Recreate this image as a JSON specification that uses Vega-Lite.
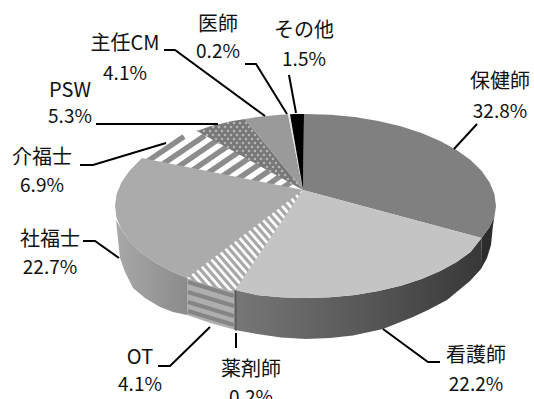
{
  "$schema": "https://vega.github.io/schema/vega-lite/v6.json",
  "width": 534,
  "height": 399,
  "padding": 0,
  "autosize": "none",
  "background": "white",
  "config": {"view": {"stroke": null}},
  "projection": {"type": "identity", "reflectY": true, "scale": 1, "translate": [300, 200]},
  "resolve": {"scale": {"fill": "independent"}},
  "datasets": {
    "hatchedTops": [
      {"type": "Feature", "properties": {"part": "OT"}, "geometry": {"type": "Polygon", "coordinates": [[[3,10],[-65,-90],[-67.4,-91],[-89.8,-85.7],[-110.5,-79],[-113,-78],[3,10]]]}},
      {"type": "Feature", "properties": {"part": "介福士"}, "geometry": {"type": "Polygon", "coordinates": [[[3,10],[-158,42],[-145.6,50],[-129.2,59.1],[-110.5,67],[-103,69],[3,10]]]}}
    ],
    "hatchOT": [
      {"s":1,"lon":-4.4,"lat":10.1},{"s":1,"lon":2.8,"lat":1.8},
      {"s":2,"lon":-9.2,"lat":6.6},{"s":2,"lon":-0.7,"lat":-3.2},
      {"s":3,"lon":-13.9,"lat":3},{"s":3,"lon":-4.1,"lat":-8.3},
      {"s":4,"lon":-18.7,"lat":-0.5},{"s":4,"lon":-7.6,"lat":-13.3},
      {"s":5,"lon":-23.4,"lat":-4.1},{"s":5,"lon":-11,"lat":-18.4},
      {"s":6,"lon":-28.1,"lat":-7.7},{"s":6,"lon":-14.5,"lat":-23.3},
      {"s":7,"lon":-32.9,"lat":-11.2},{"s":7,"lon":-18,"lat":-28.3},
      {"s":8,"lon":-37.6,"lat":-14.8},{"s":8,"lon":-21.4,"lat":-33.4},
      {"s":9,"lon":-42.3,"lat":-18.4},{"s":9,"lon":-24.9,"lat":-38.4},
      {"s":10,"lon":-47.1,"lat":-21.8},{"s":10,"lon":-28.3,"lat":-43.5},
      {"s":11,"lon":-51.8,"lat":-25.4},{"s":11,"lon":-31.8,"lat":-48.4},
      {"s":12,"lon":-56.6,"lat":-28.9},{"s":12,"lon":-35.2,"lat":-53.5},
      {"s":13,"lon":-61.3,"lat":-32.5},{"s":13,"lon":-38.7,"lat":-58.5},
      {"s":14,"lon":-66,"lat":-36.1},{"s":14,"lon":-42.1,"lat":-63.6},
      {"s":15,"lon":-70.8,"lat":-39.6},{"s":15,"lon":-45.6,"lat":-68.6},
      {"s":16,"lon":-75.5,"lat":-43.2},{"s":16,"lon":-49,"lat":-73.7},
      {"s":17,"lon":-80.2,"lat":-46.8},{"s":17,"lon":-52.5,"lat":-78.6},
      {"s":18,"lon":-85,"lat":-50.3},{"s":18,"lon":-56,"lat":-83.6},
      {"s":19,"lon":-89.7,"lat":-53.8},{"s":19,"lon":-59.4,"lat":-88.7},
      {"s":20,"lon":-94.4,"lat":-57.4},{"s":20,"lon":-61.7,"lat":-95},
      {"s":21,"lon":-99.2,"lat":-60.9},{"s":21,"lon":-69.6,"lat":-95},
      {"s":22,"lon":-104,"lat":-64.4},{"s":22,"lon":-77.4,"lat":-95},
      {"s":23,"lon":-108.7,"lat":-68},{"s":23,"lon":-85.2,"lat":-95},
      {"s":24,"lon":-113.4,"lat":-71.6},{"s":24,"lon":-93.1,"lat":-95}
    ],
    "hatchKaifuku": [
      {"s":1,"lon":-155,"lat":37},{"s":1,"lon":-116,"lat":63.5},
      {"s":2,"lon":-140,"lat":34},{"s":2,"lon":-95,"lat":64.6},
      {"s":3,"lon":-125,"lat":31},{"s":3,"lon":-79,"lat":62.5},
      {"s":4,"lon":-110,"lat":28.1},{"s":4,"lon":-68,"lat":56.7},
      {"s":5,"lon":-95,"lat":25.1},{"s":5,"lon":-58,"lat":50.3},
      {"s":6,"lon":-80,"lat":22.1},{"s":6,"lon":-47,"lat":44.5},
      {"s":7,"lon":-65,"lat":19.1},{"s":7,"lon":-37,"lat":38.1},
      {"s":8,"lon":-50,"lat":16.1},{"s":8,"lon":-26,"lat":32.4},
      {"s":9,"lon":-35,"lat":13.1},{"s":9,"lon":-16,"lat":26.5},
      {"s":10,"lon":-20,"lat":10.2},{"s":10,"lon":-6,"lat":20}
    ],
    "wallNurse": [
      {"type": "Feature", "properties": {"part": "看護師"}, "geometry": {"type": "Polygon", "coordinates": [[[181.5,-38],[170.5,-52],[156.6,-62],[140.2,-71.1],[121.5,-79],[100.8,-85.7],[78.4,-91],[54.8,-94.9],[30.4,-97.2],[5.5,-98],[-19.4,-97.2],[-43.8,-94.9],[-65,-90],[-65,-130],[-42.9,-134],[-18.9,-137.5],[5.5,-139],[30,-138],[53,-135.5],[83,-129],[113,-117],[128,-110],[147,-100],[170,-81],[181,-69],[181.5,-38]]]}}
    ],
    "wallSocial": [
      {"type": "Feature", "properties": {"part": "社福士"}, "geometry": {"type": "Polygon", "coordinates": [[[-113,-78],[-129.2,-71.1],[-145.6,-62],[-159.5,-52],[-170.5,-41.2],[-178.5,-29.8],[-184,-20],[-180,-58],[-175,-72],[-167,-88],[-155,-98],[-140,-107],[-127,-112],[-113,-115],[-113,-78]]]}}
    ],
    "wallsFlat": [
      {"type": "Feature", "properties": {"part": "保健師側面"}, "geometry": {"type": "Polygon", "coordinates": [[[196,-8],[194.4,-17],[189.5,-27],[181.5,-38],[181,-69],[187,-58],[191,-45],[193,-25],[196,-8]]]}},
      {"type": "Feature", "properties": {"part": "OT側面"}, "geometry": {"type": "Polygon", "coordinates": [[[-65,-90],[-67.4,-91],[-89.8,-85.7],[-110.5,-79],[-113,-78],[-113,-115],[-88,-123.5],[-66,-129.5],[-65,-130],[-65,-90]]]}},
      {"type": "Feature", "properties": {"part": "薬剤師側面"}, "geometry": {"type": "Polygon", "coordinates": [[[-65.5,-90],[-63.5,-90.5],[-63.5,-131],[-65.5,-130],[-65.5,-90]]]}}
    ],
    "flatTops": [
      {"type": "Feature", "properties": {"part": "保健師"}, "geometry": {"type": "Polygon", "coordinates": [[[3,10],[4,86],[5.5,86],[30.4,85.2],[54.8,82.9],[78.4,79],[100.8,73.7],[121.5,67],[140.2,59.1],[156.6,50],[170.5,40],[181.5,29.2],[189.5,17.8],[194.4,6],[196,-6],[194.4,-17],[189.5,-27],[181.5,-38],[3,10]]]}},
      {"type": "Feature", "properties": {"part": "看護師"}, "geometry": {"type": "Polygon", "coordinates": [[[3,10],[181.5,-38],[170.5,-52],[156.6,-62],[140.2,-71.1],[121.5,-79],[100.8,-85.7],[78.4,-91],[54.8,-94.9],[30.4,-97.2],[5.5,-98],[-19.4,-97.2],[-43.8,-94.9],[-65,-90],[3,10]]]}},
      {"type": "Feature", "properties": {"part": "社福士"}, "geometry": {"type": "Polygon", "coordinates": [[[3,10],[-113,-78],[-129.2,-71.1],[-145.6,-62],[-159.5,-52],[-170.5,-41.2],[-178.5,-29.8],[-183.4,-18],[-185,-6],[-183.4,6],[-178.5,17.8],[-170.5,29.2],[-158,42],[3,10]]]}},
      {"type": "Feature", "properties": {"part": "PSW"}, "geometry": {"type": "Polygon", "coordinates": [[[3,10],[-103,69],[-89.8,73.7],[-67.4,79],[-55,81],[3,10]]]}},
      {"type": "Feature", "properties": {"part": "主任CM"}, "geometry": {"type": "Polygon", "coordinates": [[[3,10],[-55,81],[-43.8,82.9],[-19.4,85.2],[-12,85.7],[3,10]]]}},
      {"type": "Feature", "properties": {"part": "医師"}, "geometry": {"type": "Polygon", "coordinates": [[[3,10],[-12,85.7],[-10,85.8],[3,10]]]}},
      {"type": "Feature", "properties": {"part": "その他"}, "geometry": {"type": "Polygon", "coordinates": [[[3,10],[-10,85.8],[-5,86],[4,86],[3,10]]]}}
    ],
    "dotsPSW": [
      {"r":1,"lon":-72,"lat":77},{"r":1,"lon":-53,"lat":77},
      {"r":2,"lon":-87,"lat":73},{"r":2,"lon":-50,"lat":73},
      {"r":3,"lon":-102,"lat":69},{"r":3,"lon":-46,"lat":69},
      {"r":4,"lon":-93,"lat":65},{"r":4,"lon":-42,"lat":65},
      {"r":5,"lon":-84,"lat":61},{"r":5,"lon":-39,"lat":61},
      {"r":6,"lon":-81,"lat":57},{"r":6,"lon":-36,"lat":57},
      {"r":7,"lon":-72,"lat":53},{"r":7,"lon":-33,"lat":53},
      {"r":8,"lon":-63,"lat":49},{"r":8,"lon":-30,"lat":49},
      {"r":9,"lon":-54,"lat":45},{"r":9,"lon":-26,"lat":45},
      {"r":10,"lon":-51,"lat":41},{"r":10,"lon":-23,"lat":41},
      {"r":11,"lon":-42,"lat":37},{"r":11,"lon":-20,"lat":37},
      {"r":12,"lon":-33,"lat":33},{"r":12,"lon":-16,"lat":33},
      {"r":13,"lon":-30,"lat":29},{"r":13,"lon":-13,"lat":29},
      {"r":14,"lon":-21,"lat":25},{"r":14,"lon":-10,"lat":25},
      {"r":15,"lon":-12,"lat":21},{"r":15,"lon":-6,"lat":21},
      {"r":16,"lon":-9,"lat":17},{"r":16,"lon":-3,"lat":17}
    ],
    "hatchWallOT": [
      {"s":1,"lon":-112,"lat":-82},{"s":1,"lon":-66,"lat":-96},
      {"s":2,"lon":-112,"lat":-92},{"s":2,"lon":-66,"lat":-106},
      {"s":3,"lon":-112,"lat":-102},{"s":3,"lon":-66,"lat":-116},
      {"s":4,"lon":-112,"lat":-111},{"s":4,"lon":-66,"lat":-125}
    ],
    "leaders": [
      {"who":"保健師","lon":154,"lat":51},{"who":"保健師","lon":177,"lat":76},
      {"who":"看護師","lon":83,"lat":-129},{"who":"看護師","lon":128,"lat":-162},{"who":"看護師","lon":140,"lat":-162},
      {"who":"薬剤師","lon":-64,"lat":-133},{"who":"薬剤師","lon":-64,"lat":-148},
      {"who":"OT","lon":-90,"lat":-127},{"who":"OT","lon":-130,"lat":-166},{"who":"OT","lon":-142,"lat":-166},
      {"who":"社福士","lon":-181,"lat":-58},{"who":"社福士","lon":-205,"lat":-41},{"who":"社福士","lon":-217,"lat":-41},
      {"who":"介福士","lon":-134,"lat":57},{"who":"介福士","lon":-207,"lat":35},{"who":"介福士","lon":-220,"lat":35},
      {"who":"PSW","lon":-82,"lat":76},{"who":"PSW","lon":-204,"lat":76},
      {"who":"主任CM","lon":-35,"lat":84},{"who":"主任CM","lon":-125,"lat":150},{"who":"主任CM","lon":-136,"lat":150},
      {"who":"医師","lon":-13,"lat":86},{"who":"医師","lon":-44,"lat":136},{"who":"医師","lon":-55,"lat":136},
      {"who":"その他","lon":-4,"lat":87},{"who":"その他","lon":-11,"lat":125}
    ],
    "labels": [
      {"name":"保健師","share":0.328,"lon":200,"nameLat":118,"shareLat":88},
      {"name":"看護師","share":0.222,"lon":176,"nameLat":-156,"shareLat":-185},
      {"name":"薬剤師","share":0.002,"lon":-49,"nameLat":-170,"shareLat":-198},
      {"name":"OT","share":0.041,"lon":-160,"nameLat":-158,"shareLat":-185},
      {"name":"社福士","share":0.227,"lon":-250,"nameLat":-40,"shareLat":-68},
      {"name":"介福士","share":0.069,"lon":-258,"nameLat":42,"shareLat":14},
      {"name":"PSW","share":0.053,"lon":-230,"nameLat":109,"shareLat":83},
      {"name":"主任CM","share":0.041,"lon":-175,"nameLat":156,"shareLat":126},
      {"name":"医師","share":0.002,"lon":-82,"nameLat":175,"shareLat":148},
      {"name":"その他","share":0.015,"lon":4,"nameLat":169,"shareLat":140}
    ]
  },
  "layer": [
    {
      "data": {"name": "hatchedTops"},
      "mark": {"type": "geoshape", "fill": "#ffffff", "stroke": null}
    },
    {
      "data": {"name": "hatchOT"},
      "mark": {"type": "line", "stroke": "#a8a8a8", "strokeWidth": 3.2},
      "encoding": {
        "longitude": {"field": "lon", "type": "quantitative"},
        "latitude": {"field": "lat", "type": "quantitative"},
        "detail": {"field": "s"}
      }
    },
    {
      "data": {"name": "hatchKaifuku"},
      "mark": {"type": "line", "stroke": "#8c8c8c", "strokeWidth": 5.5},
      "encoding": {
        "longitude": {"field": "lon", "type": "quantitative"},
        "latitude": {"field": "lat", "type": "quantitative"},
        "detail": {"field": "s"}
      }
    },
    {
      "data": {"name": "wallNurse"},
      "mark": {
        "type": "geoshape",
        "stroke": null,
        "fill": {"gradient": "linear", "x1": 0, "y1": 0, "x2": 1, "y2": 0, "stops": [
          {"offset": 0, "color": "#777777"},
          {"offset": 0.55, "color": "#565656"},
          {"offset": 1, "color": "#383838"}
        ]}
      }
    },
    {
      "data": {"name": "wallSocial"},
      "mark": {
        "type": "geoshape",
        "stroke": null,
        "fill": {"gradient": "linear", "x1": 0, "y1": 0, "x2": 1, "y2": 0, "stops": [
          {"offset": 0, "color": "#a8a8a8"},
          {"offset": 1, "color": "#8b8b8b"}
        ]}
      }
    },
    {
      "data": {"name": "wallsFlat"},
      "mark": {"type": "geoshape", "stroke": null},
      "encoding": {
        "fill": {
          "field": "properties.part",
          "type": "nominal",
          "legend": null,
          "scale": {"domain": ["保健師側面", "OT側面", "薬剤師側面"], "range": ["#2c2c2c", "#aeaeae", "#5a5a5a"]}
        }
      }
    },
    {
      "data": {"name": "hatchWallOT"},
      "mark": {"type": "line", "stroke": "#858585", "strokeWidth": 4},
      "encoding": {
        "longitude": {"field": "lon", "type": "quantitative"},
        "latitude": {"field": "lat", "type": "quantitative"},
        "detail": {"field": "s"}
      }
    },
    {
      "data": {"name": "flatTops"},
      "mark": {"type": "geoshape", "stroke": null},
      "encoding": {
        "fill": {
          "field": "properties.part",
          "type": "nominal",
          "legend": null,
          "scale": {
            "domain": ["保健師", "看護師", "社福士", "PSW", "主任CM", "医師", "その他"],
            "range": ["#808080", "#c4c4c4", "#ababab", "#787878", "#9a9a9a", "#e4e4e4", "#000000"]
          }
        }
      }
    },
    {
      "data": {"name": "dotsPSW"},
      "mark": {"type": "line", "stroke": "#b4b4b4", "strokeWidth": 2.6, "strokeCap": "round", "strokeDash": [0.01, 5.99]},
      "encoding": {
        "longitude": {"field": "lon", "type": "quantitative"},
        "latitude": {"field": "lat", "type": "quantitative"},
        "detail": {"field": "r"}
      }
    },
    {
      "data": {"name": "leaders"},
      "mark": {"type": "line", "stroke": "#000000", "strokeWidth": 2},
      "encoding": {
        "longitude": {"field": "lon", "type": "quantitative"},
        "latitude": {"field": "lat", "type": "quantitative"},
        "detail": {"field": "who"}
      }
    },
    {
      "data": {"name": "labels"},
      "mark": {"type": "text", "font": "Noto Sans CJK JP", "fontSize": 20, "fill": "#111111", "align": "center", "baseline": "middle"},
      "encoding": {
        "longitude": {"field": "lon", "type": "quantitative"},
        "latitude": {"field": "nameLat", "type": "quantitative"},
        "text": {"field": "name"}
      }
    },
    {
      "data": {"name": "labels"},
      "mark": {"type": "text", "font": "Noto Sans CJK JP", "fontSize": 19, "fill": "#111111", "align": "center", "baseline": "middle"},
      "encoding": {
        "longitude": {"field": "lon", "type": "quantitative"},
        "latitude": {"field": "shareLat", "type": "quantitative"},
        "text": {"field": "share", "format": ".1%"}
      }
    }
  ]
}
